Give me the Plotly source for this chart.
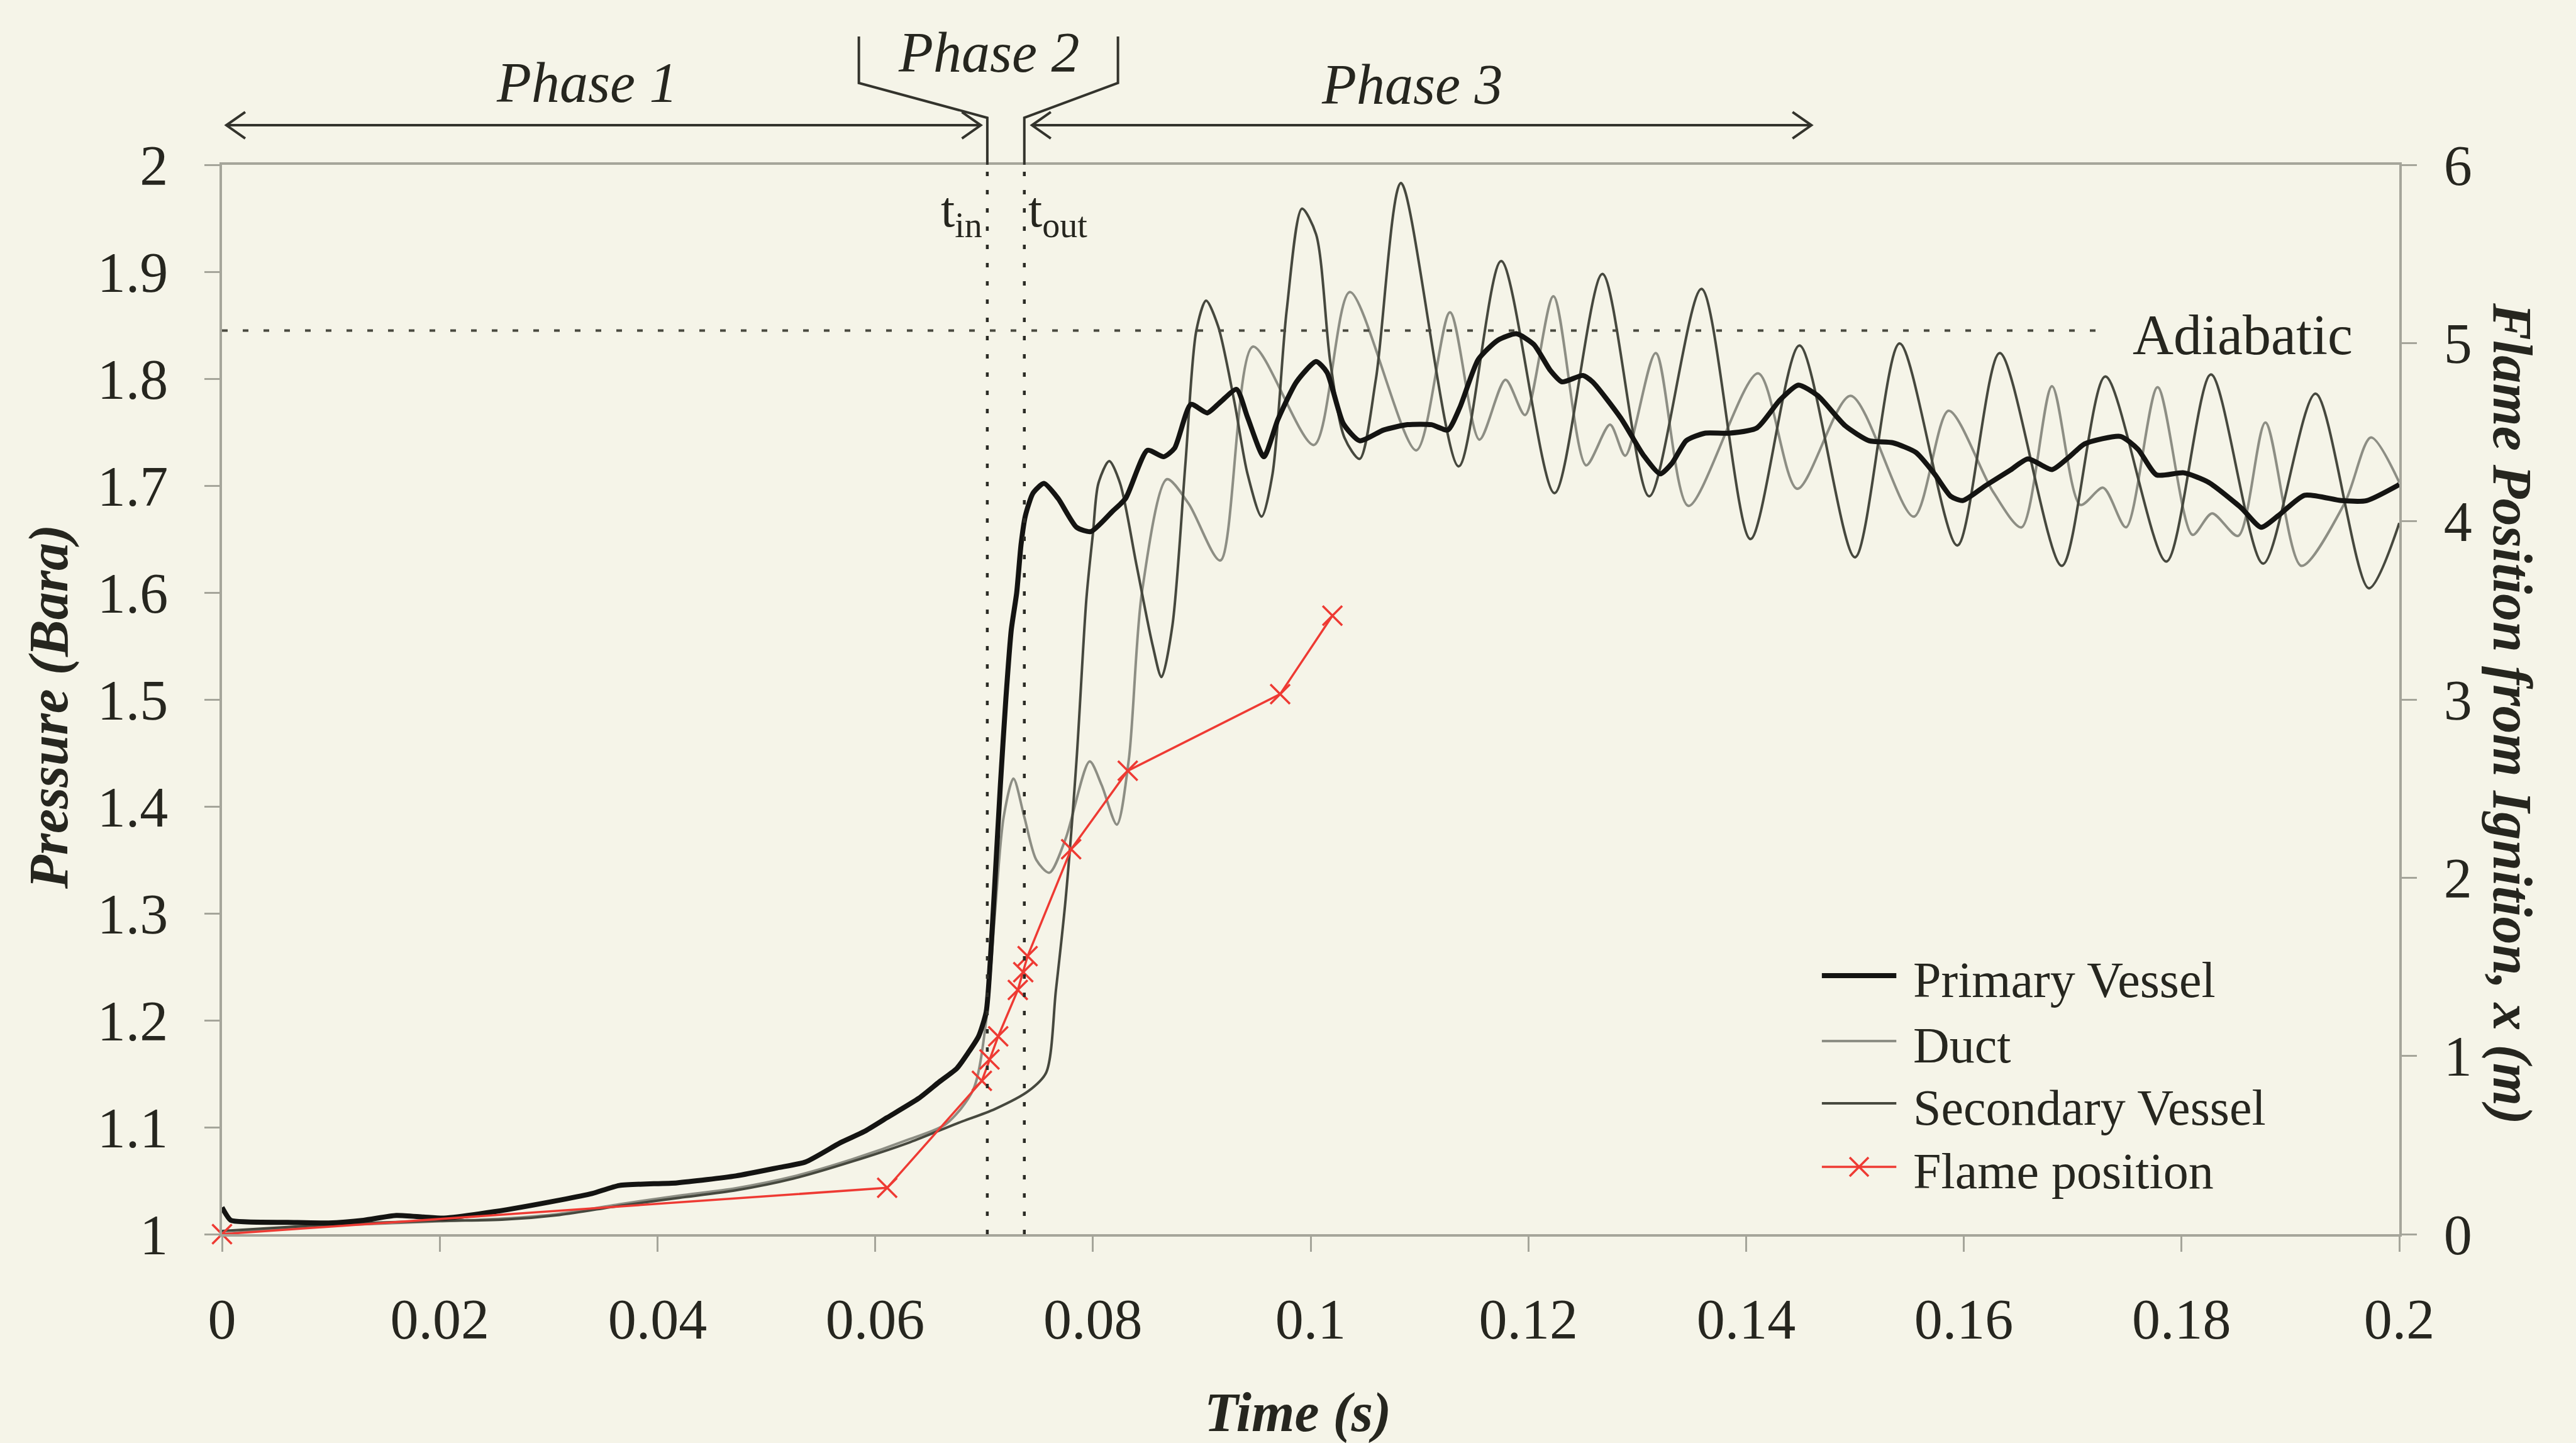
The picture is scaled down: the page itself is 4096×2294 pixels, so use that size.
import plotly.graph_objects as go

# ---------------------------------------------------------------- data
# Primary vessel pressure (bar a) against time (s)
t_primary = [0.0, 0.0008, 0.0023, 0.006, 0.0098, 0.013, 0.016, 0.0185, 0.0204, 0.025,
             0.0311, 0.034, 0.0365, 0.0418, 0.0472, 0.051, 0.0536, 0.0568, 0.059, 0.0611,
             0.064, 0.0659, 0.0675, 0.0685, 0.0695, 0.0702, 0.0706, 0.071, 0.0715, 0.072,
             0.0725, 0.073, 0.0734, 0.0738, 0.0745, 0.0755, 0.0768, 0.0785, 0.0798, 0.0818,
             0.083, 0.085, 0.0865, 0.0875, 0.089, 0.0905, 0.0917, 0.0932, 0.0942, 0.0957,
             0.097, 0.0987, 0.1005, 0.1015, 0.103, 0.1045, 0.1067, 0.1089, 0.1111, 0.1126,
             0.1137, 0.1154, 0.1172, 0.1189, 0.1205, 0.122, 0.1231, 0.125, 0.1259, 0.1285,
             0.1306, 0.1321, 0.1332, 0.1345, 0.1362, 0.1384, 0.141, 0.1431, 0.1448, 0.1466,
             0.1491, 0.1513, 0.1535, 0.1556, 0.1573, 0.1588, 0.1599, 0.162, 0.1642, 0.1659,
             0.1681, 0.1697, 0.1711, 0.1744, 0.176, 0.1777, 0.1802, 0.1825, 0.1855, 0.1873,
             0.1889, 0.1913, 0.1947, 0.197, 0.2]
p_primary = [1.025, 1.013, 1.0115, 1.011, 1.0105, 1.013, 1.0175, 1.016, 1.015, 1.021,
             1.032, 1.038, 1.0455, 1.048, 1.0545, 1.062, 1.0675, 1.0855, 1.096, 1.109,
             1.127, 1.1425, 1.155, 1.169, 1.185, 1.208, 1.26, 1.33, 1.42, 1.50,
             1.565, 1.60, 1.645, 1.672, 1.693, 1.702, 1.688, 1.661, 1.657, 1.676,
             1.688, 1.733, 1.727, 1.735, 1.776, 1.768, 1.778, 1.790, 1.764, 1.727,
             1.762, 1.797, 1.816, 1.806, 1.758, 1.742, 1.752, 1.757, 1.757, 1.752,
             1.773, 1.818, 1.836, 1.842, 1.832, 1.808, 1.797, 1.803, 1.797, 1.763,
             1.728, 1.711, 1.721, 1.742, 1.749, 1.749, 1.754, 1.780, 1.794, 1.784,
             1.756, 1.742, 1.740, 1.731, 1.711, 1.690, 1.686, 1.700, 1.714, 1.725,
             1.715, 1.727, 1.739, 1.746, 1.734, 1.710, 1.712, 1.703, 1.679, 1.661,
             1.672, 1.691, 1.686, 1.686, 1.701]

# Duct pressure (bar a)
t_duct = [0.0, 0.005, 0.01, 0.015, 0.02, 0.0257, 0.031, 0.0365, 0.042, 0.0472,
          0.0525, 0.0579, 0.0632, 0.0665, 0.069, 0.0702, 0.071, 0.0718, 0.0727, 0.0737,
          0.0748, 0.076, 0.0775, 0.0797, 0.0808, 0.0822, 0.0833, 0.0845, 0.0868, 0.0888,
          0.0917, 0.0947, 0.1003, 0.1036, 0.1097, 0.1128, 0.1155, 0.1179, 0.1197, 0.1223,
          0.1253, 0.1275, 0.1289, 0.1317, 0.1347, 0.1411, 0.1447, 0.1496, 0.1554, 0.1586,
          0.1627, 0.1653, 0.1681, 0.1707, 0.1728, 0.1749, 0.1778, 0.181, 0.1828, 0.1852,
          0.1877, 0.191, 0.195, 0.1974, 0.2]
p_duct = [1.0, 1.005, 1.008, 1.010, 1.012, 1.0145, 1.019, 1.028, 1.036, 1.043,
          1.054, 1.070, 1.089, 1.103, 1.135, 1.20, 1.30, 1.39, 1.426, 1.39,
          1.35, 1.338, 1.37, 1.442, 1.42, 1.383, 1.444, 1.60, 1.706, 1.683,
          1.630, 1.830, 1.738, 1.881, 1.733, 1.862, 1.743, 1.799, 1.766, 1.877,
          1.719, 1.757, 1.728, 1.824, 1.681, 1.805, 1.697, 1.784, 1.671, 1.770,
          1.694, 1.661, 1.793, 1.682, 1.698, 1.661, 1.792, 1.654, 1.674, 1.653,
          1.759, 1.625, 1.684, 1.745, 1.703]

# Secondary vessel pressure (bar a)
t_secondary = [0.0, 0.005, 0.01, 0.015, 0.02, 0.0257, 0.031, 0.0365, 0.042, 0.0472,
               0.0525, 0.0579, 0.0632, 0.0675, 0.071, 0.0741, 0.0757, 0.0766, 0.0775, 0.0785,
               0.0794, 0.08, 0.0805, 0.0815, 0.0825, 0.084, 0.0855, 0.0863, 0.0873, 0.0885,
               0.0895, 0.0904, 0.0915, 0.093, 0.0942, 0.0955, 0.0965, 0.0978, 0.0992, 0.1005,
               0.1018, 0.1031, 0.1045, 0.106, 0.1083, 0.1136, 0.1175, 0.1224, 0.1268, 0.1311,
               0.1359, 0.1404, 0.1449, 0.15, 0.1541, 0.1594, 0.1633, 0.169, 0.173, 0.1786,
               0.1827, 0.1875, 0.1923, 0.1972, 0.2]
p_secondary = [1.003, 1.006, 1.009, 1.011, 1.0125, 1.0135, 1.018, 1.0265, 1.034, 1.041,
               1.052, 1.068, 1.086, 1.1035, 1.117, 1.134, 1.151, 1.228, 1.314, 1.444,
               1.594, 1.655, 1.702, 1.723, 1.702, 1.626, 1.550, 1.521, 1.569, 1.721,
               1.845, 1.873, 1.849, 1.778, 1.711, 1.671, 1.711, 1.864, 1.959, 1.935,
               1.816, 1.745, 1.725, 1.80, 1.983, 1.718, 1.910, 1.693, 1.898, 1.690,
               1.884, 1.650, 1.831, 1.633, 1.833, 1.644, 1.824, 1.625, 1.802, 1.629,
               1.804, 1.627, 1.786, 1.604, 1.665]

# Flame position from ignition (m), right-hand axis
t_flame = [0.0, 0.0611, 0.0698, 0.0705, 0.0713, 0.0731, 0.0736, 0.074, 0.078, 0.0832,
           0.0972, 0.102]
x_flame = [0.0, 0.26, 0.86, 0.98, 1.11, 1.37, 1.47, 1.56, 2.16, 2.60, 3.03, 3.47]

# Reference times and levels
t_in = 0.0703
t_out = 0.0737
p_adiabatic = 1.845
t_adiabatic_end = 0.1725
t_phase3_end = 0.146

# Axis ranges and ticks
X_RANGE = [0.0, 0.2]
Y_RANGE = [1.0, 2.0]
Y2_RANGE = [0.0, 6.0]
x_ticks = [0, 0.02, 0.04, 0.06, 0.08, 0.1, 0.12, 0.14, 0.16, 0.18, 0.2]
x_ticktext = ["0", "0.02", "0.04", "0.06", "0.08", "0.1", "0.12", "0.14", "0.16", "0.18", "0.2"]
y_ticks = [1, 1.1, 1.2, 1.3, 1.4, 1.5, 1.6, 1.7, 1.8, 1.9, 2]
y_ticktext = ["1", "1.1", "1.2", "1.3", "1.4", "1.5", "1.6", "1.7", "1.8", "1.9", "2"]
y2_ticks = [0, 1, 2, 3, 4, 5, 6]
y2_ticktext = ["0", "1", "2", "3", "4", "5", "6"]

# ---------------------------------------------------------------- style
FONT = "Liberation Serif"
BG = "#f5f4e8"
INK = "#26261f"
AXIS = "#a5a59a"
ARROW = "#33332c"
C_PRIMARY = "#141412"
C_DUCT = "#8d8e84"
C_SECONDARY = "#46483e"
C_FLAME = "#ee3a33"

W, H = 4096, 2294
M_L, M_R, M_T, M_B = 353, 281, 262, 332
PLOT_W = W - M_L - M_R
PLOT_H = H - M_T - M_B


def xp(t):
    """Time value -> paper x coordinate."""
    return (t - X_RANGE[0]) / (X_RANGE[1] - X_RANGE[0])


fig = go.Figure()

fig.add_trace(go.Scatter(x=t_duct, y=p_duct, mode="lines", name="Duct",
                         line=dict(color=C_DUCT, width=4, shape="spline", smoothing=0.8),
                         showlegend=False))
fig.add_trace(go.Scatter(x=t_secondary, y=p_secondary, mode="lines", name="Secondary Vessel",
                         line=dict(color=C_SECONDARY, width=4, shape="spline", smoothing=0.8),
                         showlegend=False))
fig.add_trace(go.Scatter(x=t_primary, y=p_primary, mode="lines", name="Primary Vessel",
                         line=dict(color=C_PRIMARY, width=8, shape="spline", smoothing=0.6),
                         showlegend=False))
fig.add_trace(go.Scatter(x=t_flame, y=x_flame, mode="lines+markers", name="Flame position",
                         yaxis="y2", cliponaxis=False,
                         line=dict(color=C_FLAME, width=3.5),
                         marker=dict(symbol="x-thin", size=31,
                                     line=dict(color=C_FLAME, width=3.5)),
                         showlegend=False))

shapes = []
# t_in / t_out dotted markers inside the plot
for tv in (t_in, t_out):
    shapes.append(dict(type="line", xref="x", yref="y", x0=tv, x1=tv, y0=1, y1=2,
                       line=dict(color="#2b2b25", width=4.5, dash="7px,22px")))
# adiabatic pressure level
shapes.append(dict(type="line", xref="x", yref="y", x0=0, x1=t_adiabatic_end,
                   y0=p_adiabatic, y1=p_adiabatic,
                   line=dict(color="#4a4a40", width=4, dash="9px,24px")))

# Phase 2 bracket above the plot
BR_JOIN, BR_KNEE, BR_TOP = 1.044, 1.0765, 1.12
t_br_left, t_br_right = 0.0585, 0.0823
shapes.append(dict(type="path", xref="paper", yref="paper",
                   path=f"M{xp(t_in)},1 L{xp(t_in)},{BR_JOIN} L{xp(t_br_left)},{BR_KNEE} "
                        f"L{xp(t_br_left)},{BR_TOP}",
                   line=dict(color=ARROW, width=4)))
shapes.append(dict(type="path", xref="paper", yref="paper",
                   path=f"M{xp(t_out)},1 L{xp(t_out)},{BR_JOIN} L{xp(t_br_right)},{BR_KNEE} "
                        f"L{xp(t_br_right)},{BR_TOP}",
                   line=dict(color=ARROW, width=4)))

# Phase 1 and Phase 3 double-headed arrows (shaft plus open chevron heads)
ARROW_Y = 1.037
HEAD_DX, HEAD_DY = 30 / PLOT_W, 21 / PLOT_H


def double_arrow(t_left, t_right):
    x0, x1 = xp(t_left), xp(t_right)
    shapes.append(dict(type="line", xref="paper", yref="paper", x0=x0, x1=x1,
                       y0=ARROW_Y, y1=ARROW_Y, line=dict(color=ARROW, width=4)))
    shapes.append(dict(type="path", xref="paper", yref="paper",
                       path=f"M{x0 + HEAD_DX},{ARROW_Y + HEAD_DY} L{x0},{ARROW_Y} "
                            f"L{x0 + HEAD_DX},{ARROW_Y - HEAD_DY}",
                       line=dict(color=ARROW, width=4)))
    shapes.append(dict(type="path", xref="paper", yref="paper",
                       path=f"M{x1 - HEAD_DX},{ARROW_Y + HEAD_DY} L{x1},{ARROW_Y} "
                            f"L{x1 - HEAD_DX},{ARROW_Y - HEAD_DY}",
                       line=dict(color=ARROW, width=4)))


double_arrow(0.0004, t_in - 0.0006)
double_arrow(t_out + 0.0007, t_phase3_end)

annotations = []
phase_font = dict(family=FONT, size=90, color=INK)
annotations.append(dict(x=0.0335, y=1.0765, xref="x", yref="paper", text="<i>Phase 1</i>",
                        showarrow=False, font=phase_font, xanchor="center", yanchor="middle"))
annotations.append(dict(x=(t_br_left + t_br_right) / 2, y=1.105, xref="x", yref="paper",
                        text="<i>Phase 2</i>", showarrow=False, font=phase_font,
                        xanchor="center", yanchor="middle"))
annotations.append(dict(x=0.1093, y=1.075, xref="x", yref="paper", text="<i>Phase 3</i>",
                        showarrow=False, font=phase_font, xanchor="center", yanchor="middle"))

# t_in / t_out labels
tl_font = dict(family=FONT, size=80, color=INK)
annotations.append(dict(x=t_in, y=1.955, xref="x", yref="y", text="t<sub>in</sub>",
                        showarrow=False, font=tl_font, xanchor="right", yanchor="middle",
                        xshift=-6))
annotations.append(dict(x=t_out, y=1.955, xref="x", yref="y", text="t<sub>out</sub>",
                        showarrow=False, font=tl_font, xanchor="left", yanchor="middle",
                        xshift=4))

# adiabatic label
annotations.append(dict(x=0.1856, y=p_adiabatic - 0.004, xref="x", yref="y", text="Adiabatic",
                        showarrow=False, font=dict(family=FONT, size=90, color=INK),
                        xanchor="center", yanchor="middle"))

# axis titles
title_font = dict(family=FONT, size=88, color=INK)
annotations.append(dict(x=-0.0794, y=0.493, xref="paper", yref="paper",
                        text="<b><i>Pressure (Bara)</i></b>", textangle=-90,
                        showarrow=False, font=title_font, xanchor="center", yanchor="middle"))
annotations.append(dict(x=0.494, y=-0.167, xref="paper", yref="paper",
                        text="<b><i>Time (s)</i></b>", showarrow=False, font=title_font,
                        xanchor="center", yanchor="middle"))
annotations.append(dict(x=1.052, y=0.487, xref="paper", yref="paper",
                        text="<b><i>Flame Position from Ignition, x (m)</i></b>", textangle=90,
                        showarrow=False, font=title_font, xanchor="center", yanchor="middle"))

# legend block
legend_rows = [
    ("Primary Vessel", C_PRIMARY, 8, False),
    ("Duct", C_DUCT, 4, False),
    ("Secondary Vessel", C_SECONDARY, 4, False),
    ("Flame position", C_FLAME, 3.5, True),
]
LEG_X0, LEG_X1, LEG_TX = 0.7348, 0.769, 0.776
LEG_Y = [0.2418, 0.1806, 0.1224, 0.0629]
for (label, col, lw, has_marker), ly in zip(legend_rows, LEG_Y):
    shapes.append(dict(type="line", xref="paper", yref="paper", x0=LEG_X0, x1=LEG_X1,
                       y0=ly, y1=ly, line=dict(color=col, width=lw)))
    if has_marker:
        cx = (LEG_X0 + LEG_X1) / 2
        hx, hy = 15 / PLOT_W, 15 / PLOT_H
        shapes.append(dict(type="line", xref="paper", yref="paper", x0=cx - hx, x1=cx + hx,
                           y0=ly - hy, y1=ly + hy, line=dict(color=col, width=3.5)))
        shapes.append(dict(type="line", xref="paper", yref="paper", x0=cx - hx, x1=cx + hx,
                           y0=ly + hy, y1=ly - hy, line=dict(color=col, width=3.5)))
    annotations.append(dict(x=LEG_TX, y=ly - 0.004, xref="paper", yref="paper", text=label,
                            showarrow=False, font=dict(family=FONT, size=80, color=INK),
                            xanchor="left", yanchor="middle"))

tick_font = dict(family=FONT, size=90, color=INK)
axis_common = dict(showgrid=False, zeroline=False, showline=True, linecolor=AXIS,
                   linewidth=3.5, ticks="outside", ticklen=24, tickwidth=3,
                   tickcolor=AXIS, tickfont=tick_font, automargin=False)

fig.update_layout(
    width=W, height=H,
    margin=dict(l=M_L, r=M_R, t=M_T, b=M_B, pad=0),
    paper_bgcolor=BG, plot_bgcolor=BG,
    showlegend=False,
    xaxis=dict(range=X_RANGE, tickvals=x_ticks, ticktext=x_ticktext, mirror=True,
               ticklabelstandoff=30, **axis_common),
    yaxis=dict(range=Y_RANGE, tickvals=y_ticks, ticktext=y_ticktext,
               ticklabelstandoff=40, **axis_common),
    yaxis2=dict(range=Y2_RANGE, tickvals=y2_ticks, ticktext=y2_ticktext, overlaying="y",
                side="right", ticklabelstandoff=25, **axis_common),
    shapes=shapes,
    annotations=annotations,
)

fig.write_html("out.html")
